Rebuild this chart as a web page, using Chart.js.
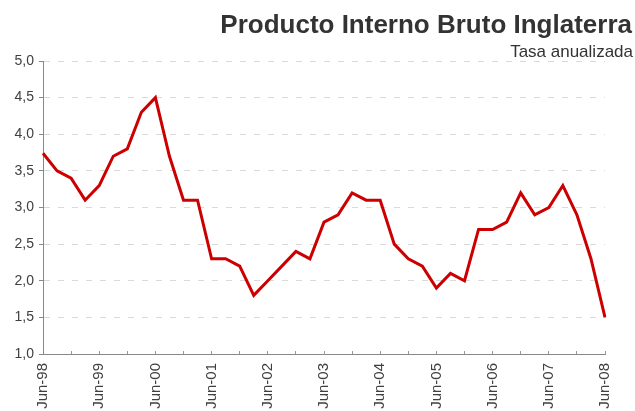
<!DOCTYPE html>
<html>
<head>
<meta charset="utf-8">
<script src="https://cdn.jsdelivr.net/npm/chart.js@4/dist/chart.umd.min.js"></script>
<style>
  body { margin: 0; background: #fff; }
  .wrap { position: relative; width: 635px; height: 411px; font-family: "Liberation Sans", Arial, sans-serif; }
  .title { position: absolute; right: 3px; top: 11px; font-size: 26px; line-height: 26px; font-weight: bold; color: #333; white-space: nowrap; }
  .subtitle { position: absolute; right: 2px; top: 43px; font-size: 17px; line-height: 17px; color: #333; white-space: nowrap; }
  canvas { position: absolute; left: 0; top: 0; }
</style>
</head>
<body>
<div class="wrap">
  <canvas id="pibChart" width="635" height="411"></canvas>
  <div class="title">Producto Interno Bruto Inglaterra</div>
  <div class="subtitle">Tasa anualizada</div>
</div>
<script>
// trimestres, jun-98 a jun-08
const quarters = [
    "Jun-98", "Sep-98", "Dec-98", "Mar-99",
    "Jun-99", "Sep-99", "Dec-99", "Mar-00",
    "Jun-00", "Sep-00", "Dec-00", "Mar-01",
    "Jun-01", "Sep-01", "Dec-01", "Mar-02",
    "Jun-02", "Sep-02", "Dec-02", "Mar-03",
    "Jun-03", "Sep-03", "Dec-03", "Mar-04",
    "Jun-04", "Sep-04", "Dec-04", "Mar-05",
    "Jun-05", "Sep-05", "Dec-05", "Mar-06",
    "Jun-06", "Sep-06", "Dec-06", "Mar-07",
    "Jun-07", "Sep-07", "Dec-07", "Mar-08",
    "Jun-08",
];

// PIB, tasa anualizada (%)
const gdpRate = [
    3.74, 3.5, 3.4, 3.1,
    3.3, 3.7, 3.8, 4.3,
    4.5, 3.7, 3.1, 3.1,
    2.3, 2.3, 2.2, 1.8,
    2.0, 2.2, 2.4, 2.3,
    2.8, 2.9, 3.2, 3.1,
    3.1, 2.5, 2.3, 2.2,
    1.9, 2.1, 2.0, 2.7,
    2.7, 2.8, 3.2, 2.9,
    3.0, 3.3, 2.9, 2.3,
    1.5,
];

const yMin = 1;
const yMax = 5;
const yStep = 0.5;

const fontFamily = "'Liberation Sans', Arial, sans-serif";

new Chart(document.getElementById("pibChart"), {
    type: "line",
    data: {
        labels: quarters,
        datasets: [{
            label: "PIB",
            data: gdpRate,
            borderColor: "#cc0000",
            borderWidth: 3,
            pointRadius: 0,
            tension: 0,
            fill: false,
        }],
    },
    options: {
        responsive: false,
        animation: false,
        layout: { padding: { top: 61, right: 26, left: 0, bottom: 0 } },
        plugins: {
            legend: { display: false },
            tooltip: { enabled: false },
        },
        scales: {
            x: {
                offset: false,
                grid: {
                    drawOnChartArea: false,
                    tickLength: -3,
                    tickColor: (ctx) => (ctx.index % 2 === 0 ? "#999" : "rgba(0,0,0,0)"),
                },
                border: { color: "#888", width: 1 },
                ticks: {
                    autoSkip: false,
                    maxRotation: 90,
                    minRotation: 90,
                    padding: 12,
                    color: "#404040",
                    font: { family: fontFamily, size: 15 },
                    callback: function (value) {
                        const lab = this.getLabelForValue(value);
                        return lab.startsWith("Jun") ? lab : "";
                    },
                },
                afterFit: (scale) => { scale.height = 57; },
            },
            y: {
                min: yMin,
                max: yMax,
                grid: {
                    color: "#d9d9d9",
                    tickColor: "#888",
                    tickLength: 4,
                },
                border: { color: "#888", width: 1, dash: [6, 8] },
                ticks: {
                    stepSize: yStep,
                    padding: 5,
                    color: "#404040",
                    font: { family: fontFamily, size: 14 },
                    callback: (v) => v.toFixed(1).replace(".", ","),
                },
                afterFit: (scale) => { scale.width = 43; },
            },
        },
    },
});
</script>
</body>
</html>
